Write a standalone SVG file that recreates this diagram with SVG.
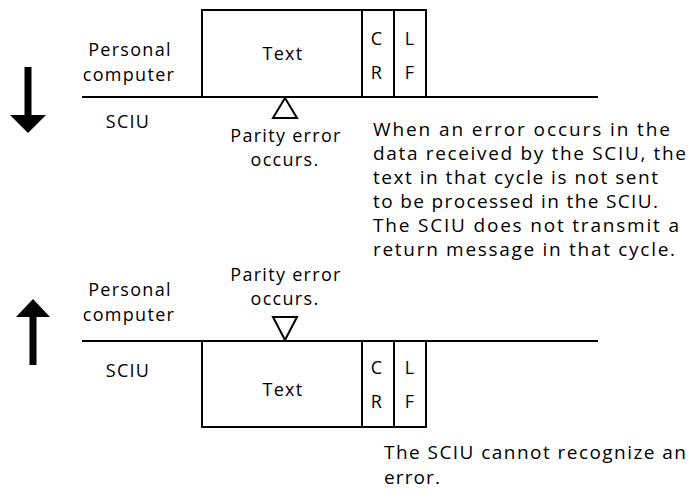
<svg xmlns="http://www.w3.org/2000/svg" width="697" height="494" viewBox="0 0 697 494">
<style>
text{font-family:"Open Sans","DejaVu Sans",sans-serif;font-size:18px;fill:#000;letter-spacing:1.3px}
.m{text-anchor:middle}
.p{letter-spacing:0;font-size:19px}
.ln{stroke:#000;stroke-width:2;fill:none}
.tri{stroke:#000;stroke-width:2;fill:#fff}
.arr{fill:#000;stroke:none}
</style>
<rect width="697" height="494" fill="#fff"/>
<g id="top-frame">
<rect class="ln" x="202" y="10" width="224" height="87"/>
<line class="ln" x1="362" y1="10" x2="362" y2="97"/>
<line class="ln" x1="394" y1="10" x2="394" y2="97"/>
<text class="m" x="283" y="60">Text</text>
<text class="m" x="377" y="45">C</text>
<text class="m" x="377" y="79">R</text>
<text class="m" x="410" y="45">L</text>
<text class="m" x="410" y="79">F</text>
</g>
<g id="top-labels">
<text class="m" x="130" y="56">Personal</text>
<text class="m" x="129" y="81">computer</text>
<text class="m" x="128" y="128">SCIU</text>
<text class="m" x="286" y="142">Parity error</text>
<text class="m" x="285" y="166">occurs.</text>
</g>
<g id="top-note">
<text class="p" x="373" y="136" textLength="297" lengthAdjust="spacing">When an error occurs in the</text>
<text class="p" x="373" y="160" textLength="313" lengthAdjust="spacing">data received by the SCIU, the</text>
<text class="p" x="373" y="184" textLength="285" lengthAdjust="spacing">text in that cycle is not sent</text>
<text class="p" x="373" y="208" textLength="285" lengthAdjust="spacing">to be processed in the SCIU.</text>
<text class="p" x="373" y="232" textLength="306" lengthAdjust="spacing">The SCIU does not transmit a</text>
<text class="p" x="373" y="256" textLength="302" lengthAdjust="spacing">return message in that cycle.</text>
</g>
<g id="bottom-frame">
<rect class="ln" x="202" y="341" width="224" height="86"/>
<line class="ln" x1="362" y1="341" x2="362" y2="427"/>
<line class="ln" x1="394" y1="341" x2="394" y2="427"/>
<text class="m" x="283" y="396">Text</text>
<text class="m" x="377" y="374">C</text>
<text class="m" x="377" y="408">R</text>
<text class="m" x="410" y="374">L</text>
<text class="m" x="410" y="408">F</text>
</g>
<g id="bottom-labels">
<text class="m" x="130" y="296">Personal</text>
<text class="m" x="129" y="321">computer</text>
<text class="m" x="128" y="377">SCIU</text>
<text class="m" x="286" y="281">Parity error</text>
<text class="m" x="285" y="305">occurs.</text>
</g>
<g id="bottom-note">
<text class="p" x="384" y="459" textLength="302" lengthAdjust="spacing">The SCIU cannot recognize an</text>
<text class="p" x="384" y="484" textLength="56" lengthAdjust="spacing">error.</text>
</g>
<g id="connectors">
<line class="ln" x1="82" y1="97" x2="598" y2="97"/>
<line class="ln" x1="82" y1="341" x2="598" y2="341"/>
<polygon class="tri" points="285,98 273,118 297,118"/>
<polygon class="tri" points="273,317 297,317 285,340"/>
<rect class="arr" x="24.5" y="67" width="7" height="50"/>
<polygon class="arr" points="10,115 46,115 28,133"/>
<rect class="arr" x="29.5" y="315" width="7" height="50"/>
<polygon class="arr" points="33,299 50,317 16,317"/>
</g>
</svg>
